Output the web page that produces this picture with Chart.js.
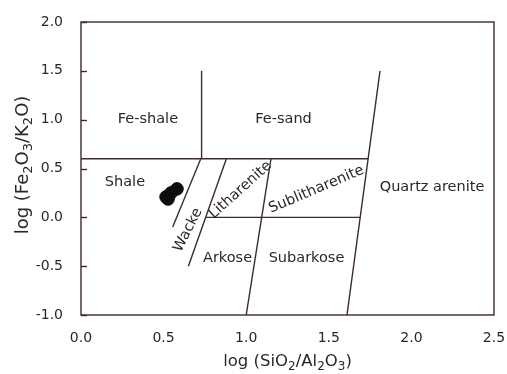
<!DOCTYPE html>
<html>
<head>
<meta charset="utf-8">
<script src="https://cdn.jsdelivr.net/npm/chart.js@4.4.1/dist/chart.umd.min.js"></script>
<style>
  html, body { margin: 0; padding: 0; background: #ffffff; }
  #wrap { width: 507px; height: 374px; position: relative; }
</style>
</head>
<body>
<div id="wrap"><canvas id="c" width="507" height="374"></canvas></div>
<script>
// Sample compositions: log(SiO2/Al2O3) vs log(Fe2O3/K2O)
const sampleX = [0.515, 0.527, 0.545, 0.581];
const sampleY = [0.209, 0.188, 0.250, 0.291];

// Classification field boundaries (Herron 1988), each as [x1, y1, x2, y2]
const boundaries = [
  [0.00, 0.6, 1.738, 0.6],   // Fe-rich / normal divide
  [0.73, 0.6, 0.73, 1.5],    // Fe-shale | Fe-sand
  [0.725, 0.6, 0.555, -0.1], // Shale | Wacke
  [0.88, 0.6, 0.65, -0.5],   // Wacke | Litharenite, Arkose
  [0.755, 0.0, 1.69, 0.0],   // Litharenite | Arkose
  [1.15, 0.6, 1.00, -1.0],   // Litharenite | Sublitharenite
  [1.61, -1.0, 1.81, 1.5]    // Quartz arenite boundary
];

// Field names and their anchor points in data units
const fieldNames = ['Fe-shale', 'Fe-sand', 'Shale', 'Quartz arenite', 'Arkose', 'Subarkose', 'Wacke', 'Litharenite', 'Sublitharenite'];
const fieldX = [0.405, 1.226, 0.266, 2.125, 0.887, 1.365, 0.648, 0.965, 1.425];
const fieldY = [1.00, 1.00, 0.355, 0.31, -0.415, -0.415, -0.13, 0.28, 0.285];
const fieldAngle = [0, 0, 0, 0, 0, 0, -63, -42, -23];

const yTicks = [-1.0, -0.5, 0.0, 0.5, 1.0, 1.5, 2.0];
const xTicks = [0.0, 0.5, 1.0, 1.5, 2.0, 2.5];

const LINE = '#3f2c27';
const TEXT = '#2b2727';
const FONT = '"DejaVu Sans", Verdana, sans-serif';

const boundarySets = boundaries.map(b => ({
  type: 'scatter',
  data: [{ x: b[0], y: b[1] }, { x: b[2], y: b[3] }],
  showLine: true,
  borderColor: LINE,
  borderWidth: 1.4,
  pointRadius: 0,
  fill: false,
  order: 2
}));

// Draws a string made of normal and subscript runs, centred on (cx, cy)
function drawRich(ctx, runs, cx, cy, size, angle) {
  const subSize = Math.round(size * 0.72);
  let total = 0;
  const widths = runs.map(r => {
    ctx.font = (r.sub ? subSize : size) + 'px ' + FONT;
    const w = ctx.measureText(r.t).width;
    total += w;
    return w;
  });
  ctx.save();
  ctx.translate(cx, cy);
  ctx.rotate(angle);
  ctx.textBaseline = 'middle';
  ctx.textAlign = 'left';
  ctx.fillStyle = TEXT;
  let x = -total / 2;
  runs.forEach((r, i) => {
    ctx.font = (r.sub ? subSize : size) + 'px ' + FONT;
    ctx.fillText(r.t, x, r.sub ? size * 0.3 : 0);
    x += widths[i];
  });
  ctx.restore();
}

const decorations = {
  id: 'decorations',
  afterDatasetsDraw(chart) {
    const { ctx, chartArea: a, scales } = chart;
    const xs = scales.x, ys = scales.y;
    ctx.save();
    // frame
    ctx.strokeStyle = LINE;
    ctx.lineWidth = 1.4;
    ctx.strokeRect(a.left, a.top, a.right - a.left, a.bottom - a.top);
    // inward ticks on the left axis
    yTicks.forEach(v => {
      const py = Math.round(ys.getPixelForValue(v)) + 0.5;
      ctx.beginPath();
      ctx.moveTo(a.left, py);
      ctx.lineTo(a.left + 6, py);
      ctx.stroke();
    });
    // field names
    ctx.fillStyle = TEXT;
    ctx.font = '14.5px ' + FONT;
    ctx.textAlign = 'center';
    ctx.textBaseline = 'middle';
    fieldNames.forEach((name, i) => {
      const px = xs.getPixelForValue(fieldX[i]);
      const py = ys.getPixelForValue(fieldY[i]);
      ctx.save();
      ctx.translate(px, py);
      ctx.rotate(fieldAngle[i] * Math.PI / 180);
      ctx.fillText(name, 0, 0);
      ctx.restore();
    });
    ctx.restore();
    // axis titles with subscripts
    drawRich(ctx, [{ t: 'log (SiO' }, { t: '2', sub: true }, { t: '/Al' }, { t: '2', sub: true }, { t: 'O' }, { t: '3', sub: true }, { t: ')' }],
      (a.left + a.right) / 2, 362, 16.5, 0);
    drawRich(ctx, [{ t: 'log (Fe' }, { t: '2', sub: true }, { t: 'O' }, { t: '3', sub: true }, { t: '/K' }, { t: '2', sub: true }, { t: 'O)' }],
      23, 165, 18, -Math.PI / 2);
  }
};

new Chart(document.getElementById('c'), {
  type: 'scatter',
  data: {
    datasets: [
      {
        label: 'Samples',
        data: sampleX.map((x, i) => ({ x: x, y: sampleY[i] })),
        pointRadius: 6.3,
        pointHoverRadius: 6.3,
        backgroundColor: '#0d0d0d',
        borderColor: '#0d0d0d',
        order: 1
      },
      ...boundarySets
    ]
  },
  options: {
    responsive: false,
    animation: false,
    events: [],
    layout: { padding: { top: 22, right: 13, left: 0, bottom: 0 } },
    plugins: {
      legend: { display: false },
      tooltip: { enabled: false }
    },
    scales: {
      x: {
        type: 'linear',
        min: 0, max: 2.5,
        afterBuildTicks: s => { s.ticks = xTicks.map(v => ({ value: v })); },
        afterFit: s => { s.height = 59; s.paddingLeft = 0; s.paddingRight = 0; },
        grid: { display: false, drawTicks: false },
        border: { display: false },
        ticks: {
          padding: 15,
          color: TEXT,
          font: { family: FONT, size: 14 },
          callback: v => v.toFixed(1)
        }
      },
      y: {
        type: 'linear',
        min: -1, max: 2,
        afterBuildTicks: s => { s.ticks = yTicks.map(v => ({ value: v })); },
        afterFit: s => { s.width = 81; s.paddingTop = 0; s.paddingBottom = 0; },
        grid: { display: false, drawTicks: false },
        border: { display: false },
        ticks: {
          padding: 18,
          color: TEXT,
          font: { family: FONT, size: 14 },
          callback: v => v.toFixed(1)
        }
      }
    }
  },
  plugins: [decorations]
});
</script>
</body>
</html>
